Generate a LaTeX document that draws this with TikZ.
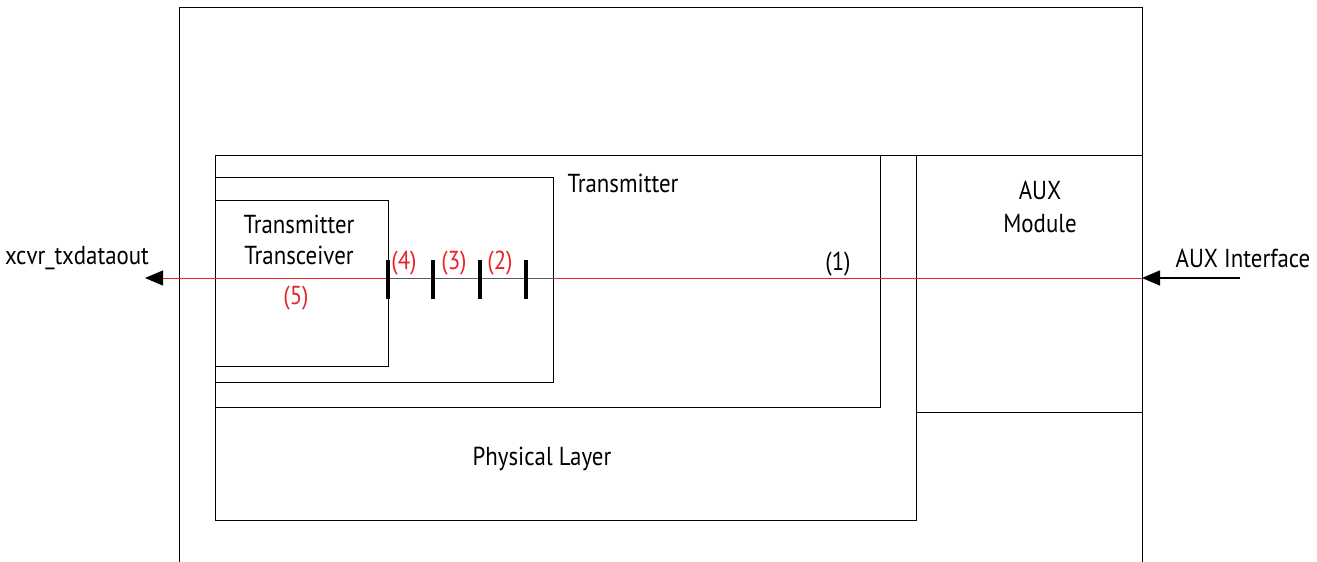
\documentclass[tikz,border=0pt]{standalone}
\usepackage{fontspec}
\setmainfont[FakeStretch=0.88]{PT Sans}
\usetikzlibrary{arrows.meta,positioning}
\definecolor{SigRed}{RGB}{232,36,40}
\definecolor{SigGray}{RGB}{90,90,90}
\tikzset{
  box/.style={draw,line width=1pt,anchor=north west,inner sep=0pt},
  lbl/.style={font=\fontsize{26}{29}\selectfont,align=center,inner sep=0pt},
  rlbl/.style={lbl,text=SigRed},
  tick/.style={line width=3.5pt},
  sig/.style={draw=SigRed,line width=1pt},
}
\begin{document}
\begin{tikzpicture}[x=1pt,y=-1pt]
\useasboundingbox (0,0) rectangle (1317,562);
% outer frame, open at the bottom
\draw[line width=1pt] (179,562) -- (179,7) -- (1142,7) -- (1142,562);
% blocks
\node[box,minimum width=701,minimum height=365] (phy) at (215,155) {};
\node[box,minimum width=665,minimum height=252] (tx) at (215,155) {};
\node[box,minimum width=338,minimum height=205] (txin) at (215,177) {};
\node[box,minimum width=173,minimum height=166] (xcvr) at (215,200) {};
\node[box,minimum width=226,minimum height=257] (aux) at (916,155) {};
% block labels
\node[lbl] (phylbl) at (542,459) {Physical Layer};
\node[lbl] (txlbl) at (623,183) {Transmitter};
\node[lbl] (xcvrlbl) at (299,240) {Transmitter\\[2pt]Transceiver};
\node[lbl] (auxlbl) at (1040,207) {AUX\\[4pt]Module};
% signal path
\coordinate (auxin) at (1142,278);
\coordinate (s1) at (553,278);
\coordinate (s4) at (388,278);
\coordinate (outtip) at (145,278);
\coordinate (ifend) at (1240,278);
\draw[sig] (auxin) -- (s1);
\draw[draw=SigGray,line width=1pt] (s1) -- (s4);
\draw[sig,-{Triangle[length=18pt,width=15pt,fill=black,color=black]}] (s4) -- (outtip);
\draw[line width=1.5pt,-{Triangle[length=18pt,width=15pt]}] (ifend) -- (auxin);
% register stages
\foreach \xx in {388,433,480,526}
  \draw[tick] (\xx,260) -- (\xx,299);
% pin labels
\node[lbl] (outlbl) at (77,258) {xcvr\_txdataout};
\node[lbl] (iflbl) at (1243,258) {AUX Interface};
% stage numbers
\node[lbl] (n1) at (838,264) {(1)};
\node[rlbl] (n2) at (500,263) {(2)};
\node[rlbl] (n3) at (454,263) {(3)};
\node[rlbl] (n4) at (404,263) {(4)};
\node[rlbl] (n5) at (296,298) {(5)};
\end{tikzpicture}
\end{document}
